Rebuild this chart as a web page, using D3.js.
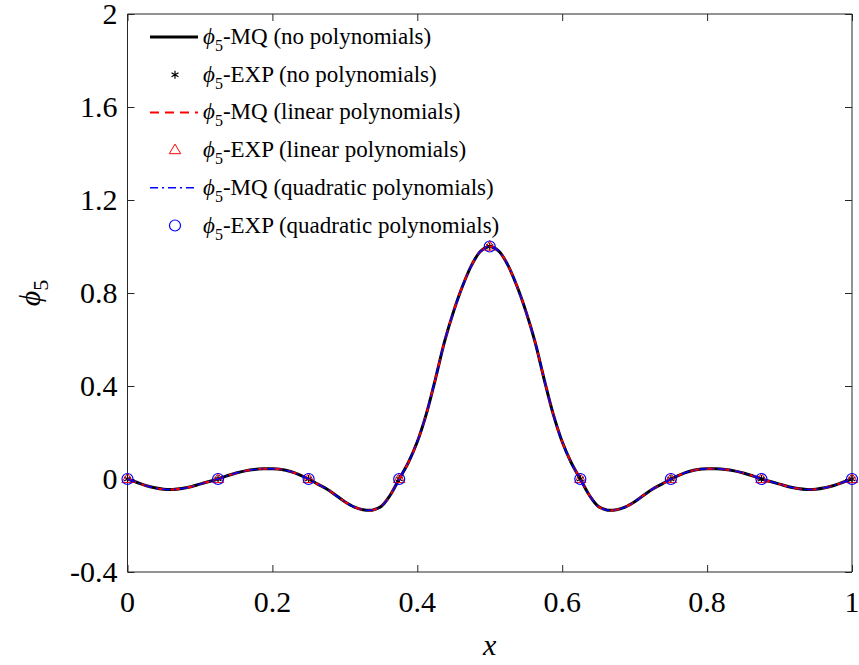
<!DOCTYPE html>
<html>
<head>
<meta charset="utf-8">
<script src="https://cdn.jsdelivr.net/npm/d3@7/dist/d3.min.js"></script>
<style>
  html, body { margin: 0; padding: 0; background: #fff; }
  svg { display: block; }
  text { font-family: "Liberation Serif", "DejaVu Serif", serif; fill: #000; }
</style>
</head>
<body>
<svg id="chart" width="859" height="665"></svg>
<script>
// ---------------- data ----------------
const xTicks = [0, 0.2, 0.4, 0.6, 0.8, 1];
const xTickLabels = ["0", "0.2", "0.4", "0.6", "0.8", "1"];
const yTicks = [-0.4, 0, 0.4, 0.8, 1.2, 1.6, 2];
const yTickLabels = ["-0.4", "0", "0.4", "0.8", "1.2", "1.6", "2"];

// centres (nodes) where the EXP markers are drawn
const xNodes = [0, 0.125, 0.25, 0.375, 0.5, 0.625, 0.75, 0.875, 1];
const phiEXPnone = [0, 0, 0, 0, 1, 0, 0, 0, 0];
const phiEXPlin  = [0, 0, 0, 0, 1, 0, 0, 0, 0];
const phiEXPquad = [0, 0, 0, 0, 1, 0, 0, 0, 0];

const xCurve = [
  0, 0.0125, 0.025, 0.0375, 0.05, 0.0625, 0.075, 0.0875, 0.1, 0.1125,
  0.125, 0.1375, 0.15, 0.1625, 0.175, 0.1875, 0.2, 0.2125, 0.225, 0.2375,
  0.25, 0.2625, 0.275, 0.2875, 0.3, 0.3125, 0.325, 0.3375, 0.35, 0.3625,
  0.375, 0.3875, 0.4, 0.4125, 0.425, 0.4375, 0.45, 0.4625, 0.475, 0.4875,
  0.5, 0.5125, 0.525, 0.5375, 0.55, 0.5625, 0.575, 0.5875, 0.6, 0.6125,
  0.625, 0.6375, 0.65, 0.6625, 0.675, 0.6875, 0.7, 0.7125, 0.725, 0.7375,
  0.75, 0.7625, 0.775, 0.7875, 0.8, 0.8125, 0.825, 0.8375, 0.85, 0.8625,
  0.875, 0.8875, 0.9, 0.9125, 0.925, 0.9375, 0.95, 0.9625, 0.975, 0.9875, 1
];
const phiMQnone = [
  0, -0.014, -0.028, -0.038, -0.044, -0.045, -0.041, -0.033, -0.022, -0.011,
  0, 0.014, 0.026, 0.035, 0.041, 0.044, 0.044, 0.041, 0.032, 0.018,
  0, -0.022, -0.043, -0.07, -0.098, -0.12, -0.132, -0.134, -0.118, -0.07,
  0, 0.07, 0.16, 0.28, 0.43, 0.59, 0.72, 0.83, 0.92, 0.98,
  1.0, 0.98, 0.92, 0.83, 0.72, 0.59, 0.43, 0.28, 0.16, 0.07,
  0, -0.07, -0.118, -0.134, -0.132, -0.12, -0.098, -0.07, -0.043, -0.022,
  0, 0.018, 0.032, 0.041, 0.044, 0.044, 0.041, 0.035, 0.026, 0.014,
  0, -0.011, -0.022, -0.033, -0.041, -0.045, -0.044, -0.038, -0.028, -0.014, 0
];
const phiMQlin  = phiMQnone.slice();
const phiMQquad = phiMQnone.slice();

const legendLabels = [
  "-MQ (no polynomials)",
  "-EXP (no polynomials)",
  "-MQ (linear polynomials)",
  "-EXP (linear polynomials)",
  "-MQ (quadratic polynomials)",
  "-EXP (quadratic polynomials)"
];

// ---------------- layout ----------------
const svg = d3.select("#chart");
const pL = 127.5, pR = 852, pT = 14, pB = 572;
const x = d3.scaleLinear().domain([0, 1]).range([pL, pR]);
const y = d3.scaleLinear().domain([-0.4, 2]).range([pB, pT]);
const axisColor = "#262626";
const tickLen = 7;
const FONT = "'Liberation Serif', 'DejaVu Serif', serif";

const g = svg.append("g");

const xAxisB = d3.axisBottom(x).tickValues(xTicks).tickSize(-tickLen).tickFormat(() => "");
const xAxisT = d3.axisTop(x).tickValues(xTicks).tickSize(-tickLen).tickFormat(() => "");
const yAxisL = d3.axisLeft(y).tickValues(yTicks).tickSize(-tickLen).tickFormat(() => "");
const yAxisR = d3.axisRight(y).tickValues(yTicks).tickSize(-tickLen).tickFormat(() => "");

function styleAxis(sel) {
  sel.select(".domain").attr("stroke", axisColor).attr("stroke-width", 1);
  sel.selectAll(".tick line").attr("stroke", axisColor).attr("stroke-width", 1);
}
g.append("g").attr("transform", `translate(0,${pB})`).call(xAxisB).call(styleAxis)
  .select(".domain").attr("d", `M${pL},0H${pR}`);
g.append("g").attr("transform", `translate(0,${pT})`).call(xAxisT).call(styleAxis)
  .select(".domain").attr("d", `M${pL},0H${pR}`);
g.append("g").attr("transform", `translate(${pL},0)`).call(yAxisL).call(styleAxis)
  .select(".domain").attr("d", `M0,${pT}V${pB}`);
g.append("g").attr("transform", `translate(${pR},0)`).call(yAxisR).call(styleAxis)
  .select(".domain").attr("d", `M0,${pT}V${pB}`);

// tick labels
g.selectAll(".xlab").data(xTicks).enter().append("text")
  .attr("font-family", FONT)
  .attr("x", d => x(d)).attr("y", pB + 40)
  .attr("text-anchor", "middle").attr("font-size", 30).attr("fill", axisColor)
  .text((d, i) => xTickLabels[i]);
g.selectAll(".ylab").data(yTicks).enter().append("text")
  .attr("font-family", FONT)
  .attr("x", pL - 10).attr("y", d => y(d) + 10)
  .attr("text-anchor", "end").attr("font-size", 30).attr("fill", axisColor)
  .text((d, i) => yTickLabels[i]);

// axis labels
g.append("text").attr("font-family", FONT).attr("x", (pL + pR) / 2).attr("y", 655)
  .attr("text-anchor", "middle").attr("font-size", 30).attr("font-style", "italic")
  .attr("fill", axisColor).text("x");
const yl = g.append("text").attr("font-family", FONT)
  .attr("transform", `translate(40,${(pT + pB) / 2}) rotate(-90)`)
  .attr("text-anchor", "middle").attr("font-size", 30).attr("fill", axisColor);
yl.append("tspan").attr("font-style", "italic").text("ϕ");
yl.append("tspan").attr("font-size", 22).attr("dy", 8).text("5");

// ---------------- series ----------------
const line = d3.line().curve(d3.curveCatmullRom.alpha(0.5))
  .x(d => x(d[0])).y(d => y(d[1]));
const plot = g.append("g");

const styles = {
  none: { color: "#000000", width: 3, dash: null },
  lin:  { color: "#ff0000", width: 2, dash: "9,6" },
  quad: { color: "#0000ff", width: 1.5, dash: "8,4,2,4" }
};

function drawLine(vals, st) {
  plot.append("path").datum(xCurve.map((xv, i) => [xv, vals[i]]))
    .attr("d", line).attr("fill", "none").attr("stroke", st.color)
    .attr("stroke-width", st.width).attr("stroke-dasharray", st.dash);
}
function asteriskPath(cx, cy, r) {
  let p = "";
  for (let k = 0; k < 3; k++) {
    const a = Math.PI / 2 + k * Math.PI / 3;
    p += `M${cx + r * Math.cos(a)},${cy - r * Math.sin(a)}L${cx - r * Math.cos(a)},${cy + r * Math.sin(a)}`;
  }
  return p;
}
function trianglePath(cx, cy, r) {
  return `M${cx},${cy - r}L${cx + r * 0.95},${cy + r * 0.6}L${cx - r * 0.95},${cy + r * 0.6}Z`;
}
function drawStars(vals) {
  plot.selectAll(null).data(xNodes).enter().append("path")
    .attr("d", (d, i) => asteriskPath(x(d), y(vals[i]), 4))
    .attr("stroke", "#000").attr("stroke-width", 1.2).attr("fill", "none");
}
function drawTriangles(vals) {
  plot.selectAll(null).data(xNodes).enter().append("path")
    .attr("d", (d, i) => trianglePath(x(d), y(vals[i]), 6))
    .attr("stroke", "#ff0000").attr("stroke-width", 1).attr("fill", "none");
}
function drawCircles(vals) {
  plot.selectAll(null).data(xNodes).enter().append("circle")
    .attr("cx", d => x(d)).attr("cy", (d, i) => y(vals[i])).attr("r", 5.5)
    .attr("stroke", "#0000ff").attr("stroke-width", 1.2).attr("fill", "none");
}

drawLine(phiMQnone, styles.none);
drawStars(phiEXPnone);
drawLine(phiMQlin, styles.lin);
drawTriangles(phiEXPlin);
drawLine(phiMQquad, styles.quad);
drawCircles(phiEXPquad);

// ---------------- legend ----------------
const leg = g.append("g");
const legY0 = 37, legDy = 37.7, lx0 = 150, lx1 = 198, mx = 175, tx = 203;
legendLabels.forEach((lab, i) => {
  const yy = legY0 + i * legDy;
  if (i === 0) leg.append("line").attr("x1", lx0).attr("x2", lx1).attr("y1", yy).attr("y2", yy)
      .attr("stroke", "#000").attr("stroke-width", 3);
  if (i === 2) leg.append("line").attr("x1", lx0).attr("x2", lx1).attr("y1", yy).attr("y2", yy)
      .attr("stroke", "#ff0000").attr("stroke-width", 2).attr("stroke-dasharray", "9,6");
  if (i === 4) leg.append("line").attr("x1", lx0).attr("x2", lx1).attr("y1", yy).attr("y2", yy)
      .attr("stroke", "#0000ff").attr("stroke-width", 1.5).attr("stroke-dasharray", "8,4,2,4");
  if (i === 1) leg.append("path").attr("d", asteriskPath(mx, yy, 4))
      .attr("stroke", "#000").attr("stroke-width", 1.2).attr("fill", "none");
  if (i === 3) leg.append("path").attr("d", trianglePath(mx, yy, 6))
      .attr("stroke", "#ff0000").attr("stroke-width", 1).attr("fill", "none");
  if (i === 5) leg.append("circle").attr("cx", mx).attr("cy", yy).attr("r", 5.5)
      .attr("stroke", "#0000ff").attr("stroke-width", 1.2).attr("fill", "none");
  const t = leg.append("text").attr("font-family", FONT)
    .attr("x", tx).attr("y", yy + 7).attr("font-size", 23);
  t.append("tspan").attr("font-style", "italic").text("ϕ");
  t.append("tspan").attr("font-size", 16).attr("dy", 7).text("5");
  t.append("tspan").attr("dy", -7).text(lab);
});
</script>
</body>
</html>
